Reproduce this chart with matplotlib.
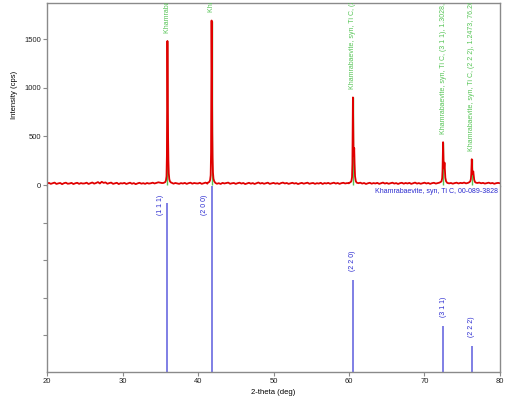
import numpy as np
import matplotlib.pyplot as plt

plt.rcParams['font.family'] = ['Liberation Sans', 'DejaVu Sans']

# measured baseline (cps), one value every 0.25 deg from 20 to 80
baseline_cps = [
    14, 22, 12, 18, 25, 11, 17, 21, 9, 19, 24, 13, 16, 22, 10, 18, 23, 12, 20, 15,
    17, 24, 11, 19, 26, 14, 21, 30, 16, 33, 22, 27, 13, 20, 25, 12, 18, 23, 10, 19,
    16, 22, 11, 18, 24, 13, 20, 9, 17, 23, 14, 19, 12, 21, 15, 18, 24, 16, 22, 28,
    24, 20, 15, 22, 13, 19, 24, 14, 21, 17, 12, 20, 15, 22, 12, 19, 24, 14, 21, 17,
    16, 23, 12, 19, 25, 14, 20, 10, 18, 22, 13, 19, 11, 22, 16, 20, 25, 13, 18, 21,
    12, 19, 24, 15, 21, 10, 17, 23, 14, 20, 11, 18, 26, 15, 21, 13, 19, 24, 12, 17,
    22, 14, 19, 11, 20, 25, 16, 21, 12, 18, 23, 15, 20, 10, 17, 22, 14, 19, 24, 13,
    18, 21, 12, 19, 15, 23, 11, 20, 16, 22, 13, 18, 24, 15, 21, 12, 19, 23, 16, 20,
    18, 22, 14, 20, 12, 19, 24, 15, 21, 11, 18, 23, 14, 20, 16, 22, 12, 19, 25, 15,
    21, 13, 18, 24, 15, 20, 11, 19, 23, 14, 21, 16, 22, 12, 18, 25, 15, 20, 13, 19,
    24, 16, 21, 12, 19, 23, 15, 20, 18, 22, 26, 19, 23, 17, 21, 14, 20, 24, 16, 22,
    19, 25, 17, 22, 14, 20, 23, 16, 21, 25, 18, 22, 15, 20, 24, 17, 21, 13, 19, 22,
    18,
]

# reference pattern Khamrabaevite (TiC) 00-089-3828
hkl = ['(1 1 1)', '(2 0 0)', '(2 2 0)', '(3 1 1)', '(2 2 2)']
peak_2theta = [35.95, 41.80, 60.52, 72.46, 76.26]
d_spacing = [2.4946, 2.1604, 1.5276, 1.3028, 1.2473]
peak_cps = [1480, 1690, 900, 440, 265]
ref_intensity = [91, 100, 49.5, 24.7, 14]

# peak profiles: offset from line position (deg) and counts
p111_off = [-0.5, -0.3, -0.2, -0.12, -0.07, -0.03, 0.0, 0.03, 0.06, 0.09, 0.13, 0.18, 0.25, 0.35, 0.5]
p111_cps = [22, 30, 45, 90, 300, 900, 1480, 1100, 650, 480, 250, 120, 60, 35, 24]
p200_off = [-0.5, -0.3, -0.2, -0.12, -0.07, -0.03, 0.0, 0.03, 0.06, 0.09, 0.13, 0.18, 0.25, 0.35, 0.5]
p200_cps = [24, 32, 50, 100, 340, 1000, 1690, 1250, 750, 540, 280, 130, 65, 38, 22]
p220_off = [-0.5, -0.3, -0.2, -0.12, -0.07, -0.03, 0.0, 0.04, 0.08, 0.12, 0.17, 0.22, 0.28, 0.38, 0.5]
p220_cps = [22, 30, 42, 80, 220, 560, 900, 620, 330, 300, 380, 220, 90, 40, 24]
p311_off = [-0.5, -0.3, -0.2, -0.12, -0.07, -0.03, 0.0, 0.04, 0.08, 0.13, 0.19, 0.24, 0.3, 0.4, 0.55]
p311_cps = [24, 32, 40, 70, 150, 300, 440, 330, 190, 170, 230, 150, 75, 38, 22]
p222_off = [-0.5, -0.3, -0.2, -0.12, -0.07, -0.03, 0.0, 0.04, 0.08, 0.14, 0.2, 0.25, 0.32, 0.42, 0.55]
p222_cps = [22, 30, 38, 60, 110, 190, 265, 200, 120, 110, 140, 100, 55, 32, 24]

profiles = [(p111_off, p111_cps), (p200_off, p200_cps), (p220_off, p220_cps),
            (p311_off, p311_cps), (p222_off, p222_cps)]

RED = '#e00000'
GREEN = '#55c455'
BLUE = '#2a2ad0'
STICK = '#6a6ae0'
GRAY = '#8a8a8a'


def build_pattern():
    x = np.arange(len(baseline_cps)) * 0.25 + 20.0
    y = np.array(baseline_cps, dtype=float)
    keep = np.ones(len(x), dtype=bool)
    for c, (off, _) in zip(peak_2theta, profiles):
        keep &= ~((x >= c + off[0]) & (x <= c + off[-1]))
    xs = [x[keep]]
    ys = [y[keep]]
    for c, (off, cps) in zip(peak_2theta, profiles):
        xs.append(c + np.array(off))
        ys.append(np.array(cps, dtype=float))
    xx = np.concatenate(xs)
    yy = np.concatenate(ys)
    order = np.argsort(xx)
    return xx[order], yy[order]


def style_axis(ax):
    for s in ax.spines.values():
        s.set_color(GRAY)
        s.set_linewidth(1.0)
    ax.tick_params(colors=GRAY, labelcolor='#222222', labelsize=5.5,
                   length=3, width=0.8, pad=1.5)


def main():
    fig = plt.figure(figsize=(5.10, 3.98), dpi=100)
    left, right = 47 / 510, 500 / 510
    ax1 = fig.add_axes([left, 1 - 186 / 398, right - left, 183 / 398])
    ax2 = fig.add_axes([left, 1 - 372 / 398, right - left, 186 / 398])

    # top panel: measured pattern
    x, y = build_pattern()
    ax1.vlines(peak_2theta, 0, peak_cps, color=GREEN, lw=1.0, zorder=1)
    ax1.plot(x, y, color=RED, lw=1.3, zorder=2)
    for tt, h, d, lab in zip(peak_2theta, peak_cps, d_spacing, hkl):
        txt = f'Khamrabaevite, syn, Ti C, {lab}, {d:.4f}, {tt:.3f}'
        ax1.annotate(txt, (tt, h), xytext=(0, 6), textcoords='offset points',
                     rotation=90, ha='center', va='bottom', fontsize=5,
                     color=GREEN, clip_on=True, annotation_clip=False)
    ax1.set_xlim(20, 80)
    ax1.set_ylim(-10, 1870)
    ax1.set_yticks([0, 500, 1000, 1500])
    ax1.set_xticks([])
    ax1.spines['bottom'].set_visible(False)
    ax1.set_ylabel('Intensity (cps)', fontsize=5.5, labelpad=4)
    style_axis(ax1)

    # bottom panel: reference sticks
    ax2.vlines(peak_2theta, 0, ref_intensity, color=STICK, lw=1.2)
    for tt, h, lab in zip(peak_2theta, ref_intensity, hkl):
        if h > 80:
            ax2.annotate(lab, (tt, 95.5), xytext=(-5, 0), textcoords='offset points',
                         rotation=90, ha='center', va='top', fontsize=5, color=BLUE)
        else:
            ax2.annotate(lab, (tt, h), xytext=(0, 6.5), textcoords='offset points',
                         rotation=90, ha='center', va='bottom', fontsize=5, color=BLUE)
    ax2.text(79.7, 99, 'Khamrabaevite, syn, Ti C, 00-089-3828', ha='right', va='top',
             fontsize=5, color=BLUE)
    ax2.set_xlim(20, 80)
    ax2.set_ylim(0, 100)
    ax2.set_yticks([20, 40, 60, 80])
    ax2.set_yticklabels([])
    ax2.set_xticks([20, 30, 40, 50, 60, 70, 80])
    ax2.spines['top'].set_visible(False)
    ax2.set_xlabel('2-theta (deg)', fontsize=5.5, labelpad=3)
    style_axis(ax2)

    fig.savefig('out.png', dpi=100)


if __name__ == '__main__':
    main()
